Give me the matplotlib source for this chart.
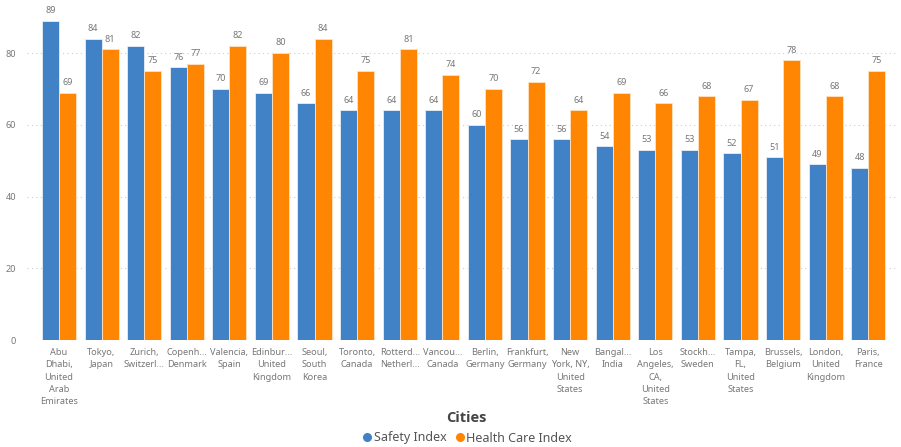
import numpy as np
import matplotlib
matplotlib.use('Agg')
import matplotlib.pyplot as plt
from matplotlib.lines import Line2D

plt.rcParams['font.family'] = ['Noto Sans', 'DejaVu Sans']

cities = [
    'Abu\nDhabi,\nUnited\nArab\nEmirates', 'Tokyo,\nJapan', 'Zurich,\nSwitzerl...',
    'Copenh...\nDenmark', 'Valencia,\nSpain', 'Edinbur...\nUnited\nKingdom',
    'Seoul,\nSouth\nKorea', 'Toronto,\nCanada', 'Rotterd...\nNetherl...',
    'Vancou...\nCanada', 'Berlin,\nGermany', 'Frankfurt,\nGermany',
    'New\nYork, NY,\nUnited\nStates', 'Bangal...\nIndia',
    'Los\nAngeles,\nCA,\nUnited\nStates', 'Stockh...\nSweden',
    'Tampa,\nFL,\nUnited\nStates', 'Brussels,\nBelgium', 'London,\nUnited\nKingdom',
    'Paris,\nFrance',
]
safety_index = [89, 84, 82, 76, 70, 69, 66, 64, 64, 64, 60, 56, 56, 54, 53, 53, 52, 51, 49, 48]
health_care_index = [69, 81, 75, 77, 82, 80, 84, 75, 81, 74, 70, 72, 64, 69, 66, 68, 67, 78, 68, 75]
y_ticks = [0, 20, 40, 60, 80]

BLUE = '#4181C5'
ORANGE = '#FF8603'
GREY = '#777777'

W, H = 901, 447
fig = plt.figure(figsize=(W / 100, H / 100), dpi=100)

# axes placed in pixel terms
x_lo, x_hi = -0.75, 19.65
y_lo, y_hi = 0, 92
left_px, right_px = 27, 896
bottom_px, top_px = 340, 10
ax = fig.add_axes([left_px / W, 1 - bottom_px / H,
                   (right_px - left_px) / W, (bottom_px - top_px) / H])

x = np.arange(len(cities))
bw = 0.4
b1 = ax.bar(x - bw / 2, safety_index, bw, color=BLUE, edgecolor='#e8eef6', linewidth=0.6, zorder=3)
b2 = ax.bar(x + bw / 2, health_care_index, bw, color=ORANGE, edgecolor='#fde2c4', linewidth=0.6, zorder=3)

for bars, vals in ((b1, safety_index), (b2, health_care_index)):
    for r, v in zip(bars, vals):
        ax.annotate(f'{v}', (r.get_x() + r.get_width() / 2, v), xytext=(0, 4),
                    textcoords='offset points', ha='center', va='bottom',
                    fontsize=6.5, color=GREY)

ax.set_xlim(x_lo, x_hi)
ax.set_ylim(y_lo, y_hi)
ax.set_yticks(y_ticks)
ax.set_xticks(x)
ax.set_xticklabels(cities, fontsize=6.6, color=GREY, linespacing=1.45)
ax.tick_params(axis='y', labelsize=6.5, labelcolor=GREY, length=0, pad=8)
ax.tick_params(axis='x', length=0, pad=6)
ax.grid(axis='y', color='#cccccc', linestyle=(0, (1, 3)), linewidth=0.8, zorder=0)
for s in ax.spines.values():
    s.set_visible(False)

fig.text(0.518, 1 - 418 / H, 'Cities', ha='center', va='center',
         fontsize=10.5, fontweight='bold', color='#444444',
         family=['Open Sans', 'DejaVu Sans'])

handles = [
    Line2D([], [], marker='o', linestyle='none', color=BLUE, markersize=5.5, label='Safety Index'),
    Line2D([], [], marker='o', linestyle='none', color=ORANGE, markersize=5.5, label='Health Care Index'),
]
fig.legend(handles=handles, loc='center', bbox_to_anchor=(0.518, 1 - 438 / H), ncol=2,
           frameon=False, fontsize=9, labelcolor='#555555', handletextpad=0.0,
           columnspacing=0.6, handlelength=1.0, borderaxespad=0)

fig.savefig('out.png', dpi=100)
